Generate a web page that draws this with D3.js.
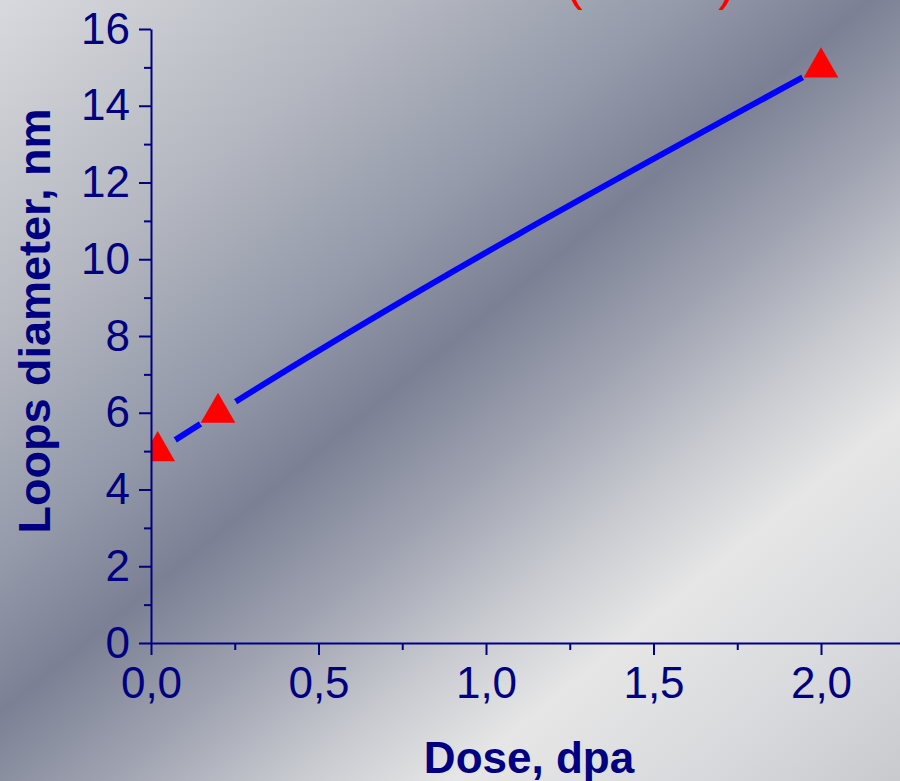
<!DOCTYPE html>
<html>
<head>
<meta charset="utf-8">
<script src="https://cdn.jsdelivr.net/npm/d3@7"></script>
<style>
  html, body { margin: 0; padding: 0; overflow: hidden; }
  svg { display: block; }
</style>
</head>
<body>
<div id="chart"></div>
<script>
// data
const dose = [0.02, 0.2, 2.0];
const loopsDiameter = [5.0, 6.0, 15.0];
const yTicks = [0, 2, 4, 6, 8, 10, 12, 14, 16];
const xTicks = [0, 0.5, 1.0, 1.5, 2.0];
const xTitle = "Dose, dpa";
const yTitle = "Loops diameter, nm";

const width = 900, height = 781;
const navy = "#000080";
const font = "'Liberation Sans', Arial, sans-serif";

const x = d3.scaleLinear().domain([0, 2.25]).range([151, 151 + 2.25 * 335]);
const y = d3.scaleLinear().domain([0, 16]).range([643, 29]);

const svg = d3.select("#chart").append("svg")
    .attr("width", width)
    .attr("height", height)
    .attr("font-family", font);

const defs = svg.append("defs");

// diagonal background: light top-left, dark band, light stripe, greyer corner
const grad = defs.append("linearGradient")
    .attr("id", "bg")
    .attr("gradientUnits", "userSpaceOnUse")
    .attr("x1", 0).attr("y1", 0)
    .attr("x2", 744).attr("y2", 908);
[
  [0, "#d8d9dd"],
  [0.22, "#b4b7c0"],
  [0.37, "#949aaa"],
  [0.47, "#7b8094"],
  [0.57, "#9ea2b0"],
  [0.67, "#c7c9cf"],
  [0.76, "#e6e6e6"],
  [0.88, "#d9dadd"],
  [1, "#c9cace"]
].forEach(([o, c]) => grad.append("stop").attr("offset", o).attr("stop-color", c));

svg.append("rect")
    .attr("width", width)
    .attr("height", height)
    .attr("fill", "url(#bg)");

// red title, cut off at the top edge (only the bottom of the brackets shows)
svg.selectAll("text.cut")
  .data([["(", 566], [")", 718]])
  .join("text")
    .attr("class", "cut")
    .attr("x", d => d[1])
    .attr("y", 0)
    .attr("fill", "#ff0000")
    .attr("font-size", 50)
    .text(d => d[0]);

defs.append("clipPath").attr("id", "plot")
  .append("rect")
    .attr("x", x(0)).attr("y", 0)
    .attr("width", width - x(0)).attr("height", y(0));

// line leaves a gap around each marker
const mask = defs.append("mask").attr("id", "gaps")
    .attr("maskUnits", "userSpaceOnUse")
    .attr("x", 0).attr("y", 0).attr("width", width).attr("height", height);
mask.append("rect").attr("width", width).attr("height", height).attr("fill", "white");
mask.selectAll("circle")
  .data(dose)
  .join("circle")
    .attr("cx", d => x(d))
    .attr("cy", (d, i) => y(loopsDiameter[i]))
    .attr("r", 21)
    .attr("fill", "black");

const pts = dose.map((d, i) => [d, loopsDiameter[i]]);

const line = d3.line()
    .x(d => x(d[0]))
    .y(d => y(d[1]))
    .curve(d3.curveMonotoneX);

svg.append("path")
    .attr("d", line(pts))
    .attr("fill", "none")
    .attr("stroke", "#0000ff")
    .attr("stroke-width", 6)
    .attr("stroke-linecap", "round")
    .attr("mask", "url(#gaps)");

svg.append("g")
    .attr("clip-path", "url(#plot)")
  .selectAll("path")
  .data(pts)
  .join("path")
    .attr("transform", d => `translate(${x(d[0])},${y(d[1])})`)
    .attr("d", d3.symbol(d3.symbolTriangle, 520))
    .attr("fill", "#ff0000");

// axes
const comma = d => d3.format(".1f")(d).replace(".", ",");

const yAxis = svg.append("g")
    .attr("transform", `translate(${x(0)},0)`)
    .call(d3.axisLeft(y).tickValues(yTicks).tickSize(12).tickSizeOuter(0).tickPadding(9));

const yMinor = svg.append("g")
    .attr("transform", `translate(${x(0)},0)`)
    .call(d3.axisLeft(y).tickValues(d3.range(1, 16, 2)).tickSize(7).tickFormat(""));

const xAxis = svg.append("g")
    .attr("transform", `translate(0,${y(0)})`)
    .call(d3.axisBottom(x).tickValues(xTicks).tickSize(12).tickSizeOuter(0).tickPadding(12).tickFormat(comma));

const xMinor = svg.append("g")
    .attr("transform", `translate(0,${y(0)})`)
    .call(d3.axisBottom(x).tickValues([0.25, 0.75, 1.25, 1.75, 2.25]).tickSize(7).tickFormat(""));

yMinor.select(".domain").remove();
xMinor.select(".domain").remove();

svg.selectAll(".domain, .tick line")
    .attr("stroke", navy)
    .attr("stroke-width", 2);

svg.selectAll(".tick text")
    .attr("fill", navy)
    .attr("font-family", font)
    .attr("font-size", 44);

// axis titles
svg.append("text")
    .attr("x", 529)
    .attr("y", 773)
    .attr("text-anchor", "middle")
    .attr("fill", navy)
    .attr("font-size", 44)
    .attr("font-weight", "bold")
    .text(xTitle);

svg.append("text")
    .attr("transform", "translate(50,321) rotate(-90)")
    .attr("text-anchor", "middle")
    .attr("fill", navy)
    .attr("font-size", 45)
    .attr("font-weight", "bold")
    .text(yTitle);
</script>
</body>
</html>
